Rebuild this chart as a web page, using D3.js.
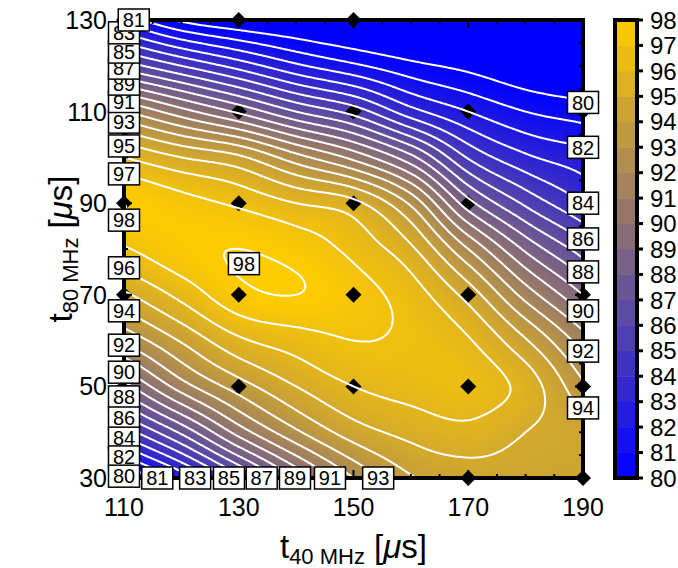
<!DOCTYPE html>
<meta charset="utf-8">
<script src="https://d3js.org/d3.v7.min.js"></script>
<style>
  html, body { margin: 0; padding: 0; background: #fff; }
  text { font-family: 'Liberation Sans', Arial, sans-serif; }
</style>
<body>
<div id="chart"></div>
<script>

// grid of values (rows = t80, columns = t40)
var t40 = [110, 120, 130, 140, 150, 160, 170, 180, 190];
var t80 = [30, 40, 50, 60, 70, 80, 90, 100, 110, 120, 130];
var fidelity = [
  [79.7, 82.3, 85.6, 89.1, 92.0, 93.9, 94.4, 94.5, 94.4],
  [84.4, 87.2, 90.4, 92.8, 94.5, 95.3, 95.7, 95.0, 94.5],
  [88.6, 91.5, 93.5, 95.0, 96.0, 96.4, 96.6, 95.6, 93.2],
  [92.2, 94.1, 95.8, 96.5, 97.0, 96.8, 96.1, 94.1, 91.5],
  [94.8, 96.3, 97.7, 98.0, 97.4, 96.5, 94.6, 91.6, 89.0],
  [96.9, 97.7, 98.0, 97.6, 96.7, 95.2, 92.0, 88.8, 86.5],
  [98.0, 97.4, 96.8, 96.0, 95.3, 92.8, 88.4, 85.8, 84.0],
  [96.0, 95.0, 94.2, 92.4, 90.7, 88.3, 84.9, 83.2, 82.4],
  [92.1, 90.4, 88.8, 87.0, 85.6, 83.4, 82.0, 81.0, 80.5],
  [86.5, 85.0, 83.6, 82.2, 81.2, 80.3, 79.7, 79.0, 78.5],
  [81.6, 79.8, 79.0, 78.6, 78.2, 77.9, 77.7, 77.5, 77.3]
];

// measured points (diamonds)
var pointT40 = [110, 130, 150, 110, 130, 150, 170, 190, 110, 130, 150, 170, 190,
                110, 130, 150, 170, 190, 110, 130, 150, 170, 190, 110, 170, 190];
var pointT80 = [130, 130, 130, 110, 110, 110, 110, 110, 90, 90, 90, 90, 90,
                70, 70, 70, 70, 70, 50, 50, 50, 50, 50, 30, 30, 30];

// contour levels and their labels
var levels = d3.range(80, 99);
var labelLevel = [81, 83, 85, 87, 89, 91, 93, 95, 97, 98, 96, 94, 92, 90, 88, 86, 84, 82, 80,
                  81, 83, 85, 87, 89, 91, 93,
                  80, 82, 84, 86, 88, 90, 92, 94,
                  98];
var labelT40 = [111.7, 110, 110, 110, 110, 110, 110, 110, 110, 110, 110, 110, 110, 110, 110, 110, 110, 110, 110,
                115.8, 122.4, 128.3, 134.0, 139.8, 145.9, 154.3,
                190, 190, 190, 190, 190, 190, 190, 190,
                130.9];
var labelT80 = [130, 127.2, 123.0, 119.5, 116.0, 112.2, 107.7, 102.5, 96.4, 86.3, 75.9, 66.5, 59.0, 53.1, 47.7, 43.1, 38.7, 34.6, 30.4,
                30, 30, 30, 30, 30, 30, 30,
                112.0, 102.2, 90.0, 82.2, 75.0, 66.5, 57.7, 45.3,
                76.8];

var xTicks = [110, 130, 150, 170, 190];
var yTicks = [30, 50, 70, 90, 110, 130];
var cbTicks = d3.range(80, 99);

var W = 678, H = 568;
var pL = 124, pR = 583, pT = 20, pB = 478;

var x = d3.scaleLinear().domain([110, 190]).range([pL, pR]);
var y = d3.scaleLinear().domain([30, 130]).range([pB, pT]);
var color = d3.scaleLinear().domain([80, 98]).range(["#0000ff", "#ffcc00"]).clamp(true);

var svg = d3.select("#chart").append("svg")
    .attr("width", W).attr("height", H);

// bicubic (Catmull-Rom) surface through the grid, like gnuplot's interpolated pm3d
var nx = t40.length, ny = t80.length;
var dxg = t40[1] - t40[0], dyg = t80[1] - t80[0];
function g(i, j) {
  if (i < 0) return 2 * g(0, j) - g(1, j);
  if (i > nx - 1) return 2 * g(nx - 1, j) - g(nx - 2, j);
  if (j < 0) return 2 * g(i, 0) - g(i, 1);
  if (j > ny - 1) return 2 * g(i, ny - 1) - g(i, ny - 2);
  return fidelity[j][i];
}
function cr(p0, p1, p2, p3, t) {
  return p1 + 0.5 * t * (p2 - p0 + t * (2 * p0 - 5 * p1 + 4 * p2 - p3 + t * (3 * (p1 - p2) + p3 - p0)));
}
function field(a, b) {
  var fx = (a - t40[0]) / dxg, fy = (b - t80[0]) / dyg;
  var i = Math.max(0, Math.min(nx - 2, Math.floor(fx)));
  var j = Math.max(0, Math.min(ny - 2, Math.floor(fy)));
  var tx = fx - i, ty = fy - j;
  var r = [-1, 0, 1, 2].map(function(d) {
    return cr(g(i - 1, j + d), g(i, j + d), g(i + 1, j + d), g(i + 2, j + d), tx);
  });
  return cr(r[0], r[1], r[2], r[3], ty);
}

// colour image
var pw = pR - pL, ph = pB - pT;
var canvas = document.createElement("canvas");
canvas.width = pw; canvas.height = ph;
var ctx = canvas.getContext("2d");
var img = ctx.createImageData(pw, ph);
for (var j = 0; j < ph; j++) {
  for (var i = 0; i < pw; i++) {
    var c = d3.rgb(color(field(x.invert(pL + i + 0.5), y.invert(pT + j + 0.5))));
    var k = (j * pw + i) * 4;
    img.data[k] = c.r; img.data[k + 1] = c.g; img.data[k + 2] = c.b; img.data[k + 3] = 255;
  }
}
ctx.putImageData(img, 0, 0);

svg.append("defs").append("clipPath").attr("id", "plotclip")
  .append("rect").attr("x", pL).attr("y", pT).attr("width", pw).attr("height", ph);

svg.append("image")
    .attr("x", pL).attr("y", pT)
    .attr("width", pw).attr("height", ph)
    .attr("preserveAspectRatio", "none")
    .attr("href", canvas.toDataURL());

// diamonds
svg.append("g")
  .selectAll("path")
  .data(pointT40)
  .enter()
  .append("path")
    .attr("d", d3.symbol(d3.symbolSquare, 128))
    .attr("transform", function(d, i) { return "translate(" + x(d) + "," + y(pointT80[i]) + ") rotate(45)"; })
    .attr("fill", "#000");

// contour lines
var step = 0.25;
var gx = Math.round((t40[nx - 1] - t40[0]) / step) + 1;
var gy = Math.round((t80[ny - 1] - t80[0]) / step) + 1;
var values = new Array(gx * gy);
for (var jj = 0; jj < gy; jj++)
  for (var ii = 0; ii < gx; ii++)
    values[jj * gx + ii] = field(t40[0] + ii * step, t80[0] + jj * step);

var proj = d3.geoTransform({
  point: function(px, py) {
    this.stream.point(x(t40[0] + (px - 0.5) * step), y(t80[0] + (py - 0.5) * step));
  }
});
var contours = d3.contours().size([gx, gy]).thresholds(levels)(values);

svg.append("g")
    .attr("clip-path", "url(#plotclip)")
  .selectAll("path")
  .data(contours)
  .enter()
  .append("path")
    .attr("d", d3.geoPath(proj))
    .attr("fill", "none")
    .attr("stroke", "#fff")
    .attr("stroke-width", 2);

// ticks on all four sides, inside
var minorX = d3.range(110, 191, 5), minorY = d3.range(30, 131, 5);
var tk = svg.append("g").attr("stroke", "#000").attr("stroke-width", 2);
minorX.forEach(function(v) {
  var len = xTicks.indexOf(v) >= 0 ? 8 : 4;
  tk.append("line").attr("x1", x(v)).attr("x2", x(v)).attr("y1", pB).attr("y2", pB - len);
  tk.append("line").attr("x1", x(v)).attr("x2", x(v)).attr("y1", pT).attr("y2", pT + len);
});
minorY.forEach(function(v) {
  var len = yTicks.indexOf(v) >= 0 ? 8 : 4;
  tk.append("line").attr("y1", y(v)).attr("y2", y(v)).attr("x1", pL).attr("x2", pL + len);
  tk.append("line").attr("y1", y(v)).attr("y2", y(v)).attr("x1", pR).attr("x2", pR - len);
});

// frame
svg.append("rect")
    .attr("x", pL).attr("y", pT).attr("width", pw).attr("height", ph)
    .attr("fill", "none").attr("stroke", "#000").attr("stroke-width", 4);

// contour labels (lower levels drawn last)
var order = d3.range(labelLevel.length).sort(function(a, b) { return labelLevel[b] - labelLevel[a]; });
var lab = svg.append("g").selectAll("g")
  .data(order)
  .enter()
  .append("g")
    .attr("transform", function(i) { return "translate(" + x(labelT40[i]) + "," + y(labelT80[i]) + ")"; });
lab.append("rect")
    .attr("x", -15.5).attr("y", -11).attr("width", 31).attr("height", 22)
    .attr("fill", "#fff").attr("stroke", "#000").attr("stroke-width", 1.5);
lab.append("text")
    .attr("text-anchor", "middle")
    .attr("dy", "0.36em")
    .style("font-size", "20px")
    .text(function(i) { return labelLevel[i]; });

// tick labels
svg.append("g").selectAll("text")
  .data(xTicks).enter().append("text")
    .attr("x", function(d) { return x(d); })
    .attr("y", 516)
    .attr("text-anchor", "middle")
    .style("font-size", "25px")
    .text(function(d) { return d; });

svg.append("g").selectAll("text")
  .data(yTicks).enter().append("text")
    .attr("x", 107)
    .attr("y", function(d) { return y(d); })
    .attr("dy", "0.36em")
    .attr("text-anchor", "end")
    .style("font-size", "25px")
    .text(function(d) { return d; });

// axis titles
function title(sel, sub) {
  sel.append("tspan").text("t");
  sel.append("tspan").attr("dy", 6).style("font-size", "22px").text(sub);
  sel.append("tspan").attr("dy", -6).text(" [");
  sel.append("tspan").style("font-style", "italic").text("\u03bc");
  sel.append("tspan").text("s]");
}
svg.append("text")
    .attr("x", (pL + pR) / 2).attr("y", 558)
    .attr("text-anchor", "middle")
    .style("font-size", "33px")
    .call(title, "40 MHz");

svg.append("text")
    .attr("transform", "translate(72," + ((pT + pB) / 2) + ") rotate(-90)")
    .attr("text-anchor", "middle")
    .style("font-size", "33px")
    .call(title, "80 MHz");

// colour bar
var cb = d3.scaleLinear().domain([80, 98]).range([pB, pT]);
var cbx = 615, cbw = 22;
svg.append("g").selectAll("rect")
  .data(d3.range(80, 98))
  .enter().append("rect")
    .attr("x", cbx).attr("width", cbw)
    .attr("y", function(d) { return cb(d + 1); })
    .attr("height", function(d) { return cb(d) - cb(d + 1) + 0.5; })
    .attr("fill", function(d) { return color(d + 0.5); });
svg.append("rect")
    .attr("x", cbx).attr("y", pT).attr("width", cbw).attr("height", ph)
    .attr("fill", "none").attr("stroke", "#000").attr("stroke-width", 4);
svg.append("g").selectAll("line")
  .data(cbTicks).enter().append("line")
    .attr("x1", cbx + cbw).attr("x2", cbx + cbw + 6)
    .attr("y1", function(d) { return cb(d); }).attr("y2", function(d) { return cb(d); })
    .attr("stroke", "#000").attr("stroke-width", 3);
svg.append("g").selectAll("text")
  .data(cbTicks).enter().append("text")
    .attr("x", 650)
    .attr("y", function(d) { return cb(d); })
    .attr("dy", "0.36em")
    .style("font-size", "24px")
    .text(function(d) { return d; });

</script>
</body>
